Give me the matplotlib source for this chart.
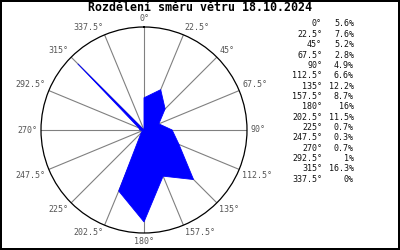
import matplotlib
matplotlib.use('Agg')
import matplotlib.pyplot as plt
import numpy as np

# wind direction distribution
directions = [0, 22.5, 45, 67.5, 90, 112.5, 135, 157.5,
              180, 202.5, 225, 247.5, 270, 292.5, 315, 337.5]
percent = [5.6, 7.6, 5.2, 2.8, 4.9, 6.6, 12.2, 8.7,
           16, 11.5, 0.7, 0.3, 0.7, 1, 16.3, 0]
dir_labels = ['0', '22.5', '45', '67.5', '90', '112.5', '135', '157.5',
              '180', '202.5', '225', '247.5', '270', '292.5', '315', '337.5']
pct_labels = ['5.6', '7.6', '5.2', '2.8', '4.9', '6.6', '12.2', '8.7',
              '16', '11.5', '0.7', '0.3', '0.7', '1', '16.3', '0']
title = 'Rozdělení směru větru 18.10.2024'

W, H = 400, 250
fig = plt.figure(figsize=(W / 100, H / 100), dpi=100,
                 facecolor='white', edgecolor='black', linewidth=1.5)

# polar axes: centre (144,130), radius 103 px
cx, cy, rad = 144, 130, 103
ax = fig.add_axes([(cx - rad) / W, (H - cy - rad) / H, 2 * rad / W, 2 * rad / H],
                  projection='polar')
ax.set_theta_zero_location('N')
ax.set_theta_direction(-1)

theta = np.deg2rad(directions)
rmax = max(percent) * 1.1
ax.set_ylim(0, rmax)

th = np.append(theta, theta[0])
rr = np.append(percent, percent[0])
ax.fill(th, rr, color='#0000ff', lw=0.6, zorder=3)

# spokes and outer circle
ax.set_xticks(theta)
ax.set_xticklabels([])
ax.set_yticks([])
ax.grid(True, axis='x', color='#808080', lw=0.8)
ax.spines['polar'].set_color('black')
ax.spines['polar'].set_linewidth(0.9)

mono = 'DejaVu Sans Mono'
for t, lab in zip(theta, dir_labels):
    s, c = np.sin(t), np.cos(t)
    ha = 'left' if s > 0.1 else ('right' if s < -0.1 else 'center')
    va = 'bottom' if c > 0.1 else ('top' if c < -0.1 else 'center')
    ax.text(t, rmax * 1.035, lab + '°', ha=ha, va=va, family=mono,
            fontsize=6, color='#555555', clip_on=False)

fig.text(0.5, 1 - 11 / H, title, ha='center', va='baseline', family=mono,
         fontsize=8.4, fontweight='bold', color='black')

# legend table on the right
y0, dy = 24, 10.35
for i, (d, p) in enumerate(zip(dir_labels, pct_labels)):
    y = 1 - (y0 + i * dy) / H
    fig.text(322 / W, y, d + '°', ha='right', va='center', family=mono,
             fontsize=6, color='#111111')
    fig.text(354 / W, y, p + '%', ha='right', va='center', family=mono,
             fontsize=6, color='#111111')

fig.savefig('out.png', dpi=100, facecolor='white', edgecolor='black')
